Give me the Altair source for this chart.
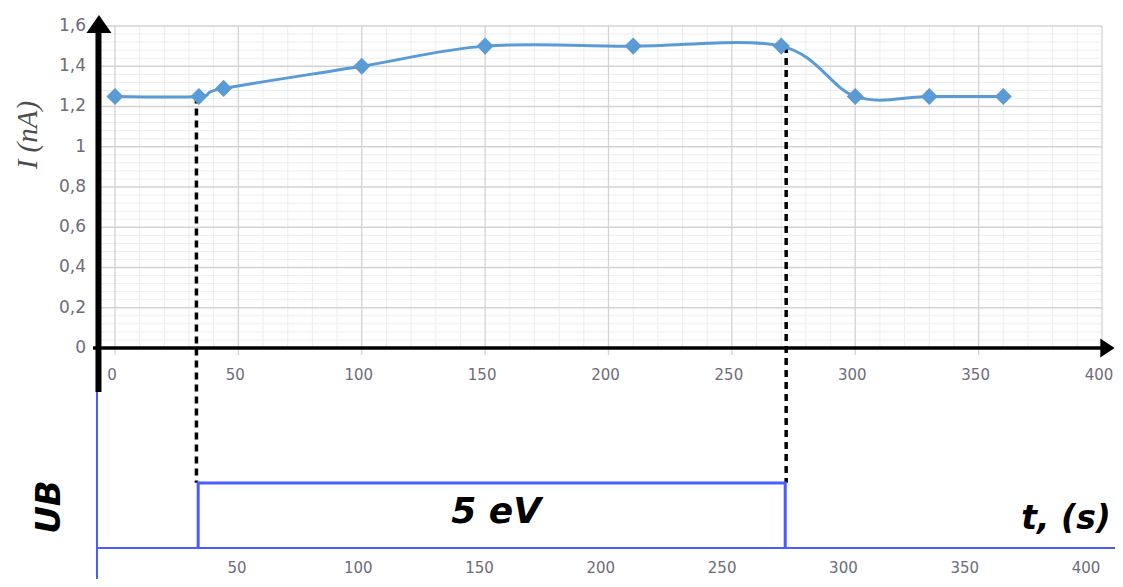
import altair as alt
import pandas as pd

# ---------------- data ----------------
t_s = [0, 34, 44, 100, 150, 210, 270, 300, 330, 360]
i_na = [1.25, 1.25, 1.29, 1.40, 1.50, 1.50, 1.50, 1.25, 1.25, 1.25]

y_ticks = [0, 0.2, 0.4, 0.6, 0.8, 1.0, 1.2, 1.4, 1.6]
y_tick_labels = ["0", "0,2", "0,4", "0,6", "0,8", "1", "1,2", "1,4", "1,6"]
x_ticks = [0, 50, 100, 150, 200, 250, 300, 350, 400]
x_tick_labels = ["0", "50", "100", "150", "200", "250", "300", "350", "400"]
x_ticks_bottom = [50, 100, 150, 200, 250, 300, 350, 400]
x_tick_labels_bottom = ["50", "100", "150", "200", "250", "300", "350", "400"]

dash_t = [33, 272]          # instants marked on the current curve
dash_i = [1.25, 1.50]
pulse_t = [34, 34, 276, 276]  # UB pulse (lower panel time axis)
pulse_v = [0, 5, 5, 0]        # 5 eV pulse

minor_x = [v for v in range(10, 400, 10) if v % 50 != 0]
minor_y = [round(k * 0.04, 2) for k in range(1, 40) if k % 5 != 0]

# ---------------- scales ----------------
W, H = 1107, 571
xs = alt.Scale(domain=[-43.364, 405.27], nice=False, zero=False)
ys = alt.Scale(domain=[-1.14783, 1.68944], nice=False, zero=False)
xb = alt.Scale(domain=[-44.40, 411.96], nice=False, zero=False)
yb = alt.Scale(domain=[-2.385, 41.538], nice=False, zero=False)


def X(f, s=xs):
    return alt.X(f, type="quantitative", scale=s, axis=None)


def Y(f, s=ys):
    return alt.Y(f, type="quantitative", scale=s, axis=None)


AX_T = -6.7      # position of the drawn (black) y axis on the time scale
LBL = "#6e6c78"
BLUE = "#5B9BD5"
UBBLUE = "#4a5bff"

# ---------------- upper panel ----------------
g_minor_v = alt.Chart(pd.DataFrame({"t": minor_x, "a": 0.0, "b": 1.6})).mark_rule(
    color="#ededed", strokeWidth=1).encode(x=X("t"), y=Y("a"), y2="b")
g_minor_h = alt.Chart(pd.DataFrame({"v": minor_y, "a": AX_T, "b": 400})).mark_rule(
    color="#ededed", strokeWidth=1).encode(y=Y("v"), x=X("a"), x2="b")
g_major_v = alt.Chart(pd.DataFrame({"t": x_ticks, "a": -0.035, "b": 1.6})).mark_rule(
    color="#d3d3d3", strokeWidth=1.3).encode(x=X("t"), y=Y("a"), y2="b")
g_major_h = alt.Chart(pd.DataFrame({"v": y_ticks[1:], "a": AX_T, "b": 400})).mark_rule(
    color="#d3d3d3", strokeWidth=1.3).encode(y=Y("v"), x=X("a"), x2="b")

dashed = alt.Chart(pd.DataFrame({"t": dash_t, "a": dash_i, "b": -0.67})).mark_rule(
    color="black", strokeWidth=3.5, strokeDash=[7, 5]).encode(x=X("t"), y=Y("a"), y2="b")

axis_v = alt.Chart(pd.DataFrame({"t": [AX_T], "a": [-0.219], "b": [1.6]})).mark_rule(
    color="black", strokeWidth=6).encode(x=X("t"), y=Y("a"), y2="b")
axis_h = alt.Chart(pd.DataFrame({"v": [0.0], "a": [-8.9], "b": [401.0]})).mark_rule(
    color="black", strokeWidth=3.5).encode(y=Y("v"), x=X("a"), x2="b")
arrow_up = alt.Chart(pd.DataFrame({"t": [-6.5], "v": [1.61]})).mark_point(
    shape="M-1,0.72L1,0.72L0,-0.72Z", size=625, filled=True, color="black", opacity=1
).encode(x=X("t"), y=Y("v"))
arrow_right = alt.Chart(pd.DataFrame({"t": [402.2], "v": [0.0]})).mark_point(
    shape="M-0.75,-1L0.75,0L-0.75,1Z", size=361, filled=True, color="black", opacity=1
).encode(x=X("t"), y=Y("v"))

curve_df = pd.DataFrame({"t": t_s, "i": i_na})
curve = alt.Chart(curve_df).mark_line(
    interpolate="cardinal", color=BLUE, strokeWidth=3).encode(x=X("t"), y=Y("i"))
pts = alt.Chart(curve_df).mark_point(
    shape="diamond", size=290, filled=True, color=BLUE, opacity=1).encode(x=X("t"), y=Y("i"))

ylab = alt.Chart(pd.DataFrame({"v": y_ticks, "lab": y_tick_labels, "t": -11.75})).mark_text(
    align="right", baseline="middle", font="DejaVu Sans", fontSize=17, color=LBL
).encode(x=X("t"), y=Y("v"), text="lab:N")
xlab = alt.Chart(pd.DataFrame({"t": x_ticks, "lab": x_tick_labels, "v": -0.134})).mark_text(
    align="center", baseline="middle", font="DejaVu Sans", fontSize=15, color=LBL, dx=-3
).encode(x=X("t"), y=Y("v"), text="lab:N")
ytitle = alt.Chart(pd.DataFrame({"t": [-35.3], "v": [1.058], "lab": ["I (nA)"]})).mark_text(
    align="center", baseline="middle", angle=270, font="Liberation Serif",
    fontStyle="italic", fontSize=29, color="#4d4d4d"
).encode(x=X("t"), y=Y("v"), text="lab:N")

top = alt.layer(g_minor_v, g_minor_h, g_major_v, g_major_h, dashed, axis_v, axis_h,
                arrow_up, arrow_right, curve, pts, ylab, xlab, ytitle)

# ---------------- lower panel (UB pulse) ----------------
b_axis_v = alt.Chart(pd.DataFrame({"t": [-7.7], "a": [12.0], "b": [-2.385]})).mark_rule(
    color=UBBLUE, strokeWidth=2).encode(x=X("t", xb), y=Y("a", yb), y2="b")
b_axis_h = alt.Chart(pd.DataFrame({"v": [0.0], "a": [-7.7], "b": [411.96]})).mark_rule(
    color=UBBLUE, strokeWidth=2).encode(y=Y("v", yb), x=X("a", xb), x2="b")
pulse = alt.Chart(pd.DataFrame({"t": pulse_t, "v": pulse_v, "o": [0, 1, 2, 3]})).mark_line(
    color=UBBLUE, strokeWidth=3).encode(x=X("t", xb), y=Y("v", yb), order="o:Q")
blab = alt.Chart(pd.DataFrame({"t": x_ticks_bottom, "lab": x_tick_labels_bottom, "v": -1.54})).mark_text(
    align="center", baseline="middle", font="DejaVu Sans", fontSize=15, color=LBL
).encode(x=X("t", xb), y=Y("v", yb), text="lab:N")
ub = alt.Chart(pd.DataFrame({"t": [-27.1], "v": [3.15], "lab": ["UB"]})).mark_text(
    align="center", baseline="middle", angle=270, font="DejaVu Sans", fontStyle="italic",
    fontWeight="bold", fontSize=34, color="black"
).encode(x=X("t", xb), y=Y("v", yb), text="lab:N")
ev = alt.Chart(pd.DataFrame({"t": [156.8], "v": [2.77], "lab": ["5 eV"]})).mark_text(
    align="center", baseline="middle", font="DejaVu Sans", fontStyle="italic",
    fontWeight="bold", fontSize=36, color="black"
).encode(x=X("t", xb), y=Y("v", yb), text="lab:N")
ts = alt.Chart(pd.DataFrame({"t": [391.8], "v": [2.23], "lab": ["t, (s)"]})).mark_text(
    align="center", baseline="middle", font="DejaVu Sans", fontStyle="italic",
    fontWeight="bold", fontSize=33, color="black"
).encode(x=X("t", xb), y=Y("v", yb), text="lab:N")

bottom = alt.layer(b_axis_v, b_axis_h, pulse, blab, ub, ev, ts)

chart = alt.layer(top, bottom).resolve_scale(x="independent", y="independent").properties(
    width=W, height=H, autosize=alt.AutoSizeParams(type="none"), padding=0,
    background="white"
).configure_view(stroke=None)

chart.save("out.html", embed_options={"renderer": "svg", "actions": False})
